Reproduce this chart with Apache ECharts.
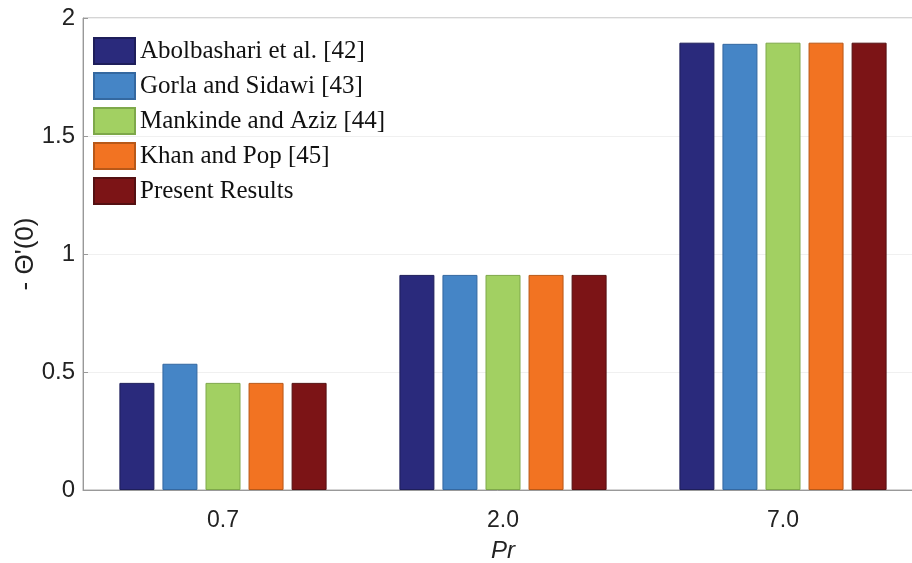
<!DOCTYPE html>
<html><head><meta charset="utf-8">
<script src="https://cdn.jsdelivr.net/npm/echarts@6/dist/echarts.min.js"></script>
<style>html,body{margin:0;padding:0;background:#fff}#c{width:912px;height:563px}</style>
</head><body><div id="c"></div>
<script>
const categories = ['0.7', '2.0', '7.0'];
const seriesNames = ['Abolbashari et al. [42]', 'Gorla and Sidawi [43]', 'Mankinde and Aziz [44]', 'Khan and Pop [45]', 'Present Results'];
const abolbashari = [0.4539, 0.9114, 1.8954];
const gorla = [0.5349, 0.9114, 1.8905];
const mankinde = [0.4539, 0.9114, 1.8954];
const khan = [0.4539, 0.9114, 1.8954];
const present = [0.4539, 0.9114, 1.8954];
const yTicks = [0, 0.5, 1, 1.5, 2];

const colors = ['#2a2a7c', '#4585c6', '#a2d062', '#f27322', '#7c1416'];
const borders = ['#1e1e5a', '#3468a0', '#7ea84a', '#b85818', '#541012'];
const allData = [abolbashari, gorla, mankinde, khan, present];

const chart = echarts.init(document.getElementById('c'), null, {renderer: 'canvas'});
chart.setOption({
  animation: false,
  backgroundColor: '#fff',
  grid: {left: 83, top: 18, right: -11, bottom: 73, show: true, borderColor: '#aaaaaa', borderWidth: 1, outerBoundsMode: 'none', containLabel: false},
  legend: {
    orient: 'vertical', left: 93, top: 37, padding: 0,
    itemWidth: 41, itemHeight: 26, itemGap: 7,
    textStyle: {fontFamily: 'Liberation Serif', fontSize: 25, color: '#111'},
    icon: 'rect',
    data: seriesNames
  },
  xAxis: {
    type: 'category', data: categories,
    axisLine: {lineStyle: {color: '#999'}},
    axisTick: {show: false},
    axisLabel: {fontFamily: 'Liberation Sans', fontSize: 23, color: '#222', margin: 19},
    name: 'Pr', nameLocation: 'middle', nameGap: 49, nameMoveOverlap: false,
    nameTextStyle: {fontFamily: 'Liberation Sans', fontStyle: 'italic', fontSize: 24, color: '#222'}
  },
  yAxis: {
    type: 'value', min: yTicks[0], max: yTicks[yTicks.length-1], interval: 0.5,
    axisLine: {show: true, lineStyle: {color: '#999'}},
    axisTick: {show: true, inside: true, length: 5, lineStyle: {color: '#999'}},
    splitLine: {show: true, lineStyle: {color: '#f0f0f0'}},
    axisLabel: {fontFamily: 'Liberation Sans', fontSize: 24, color: '#222', margin: 8},
    name: "- \u0398'(0)", nameLocation: 'middle', nameGap: 44, nameRotate: 90, nameMoveOverlap: false,
    nameTextStyle: {fontFamily: 'Liberation Sans', fontSize: 26, color: '#222'}
  },
  series: seriesNames.map((n, i) => ({
    name: n, type: 'bar', data: allData[i],
    barWidth: 35, barGap: '23%',
    itemStyle: {color: colors[i], borderColor: borders[i], borderWidth: 1}
  }))
});
</script></body></html>
